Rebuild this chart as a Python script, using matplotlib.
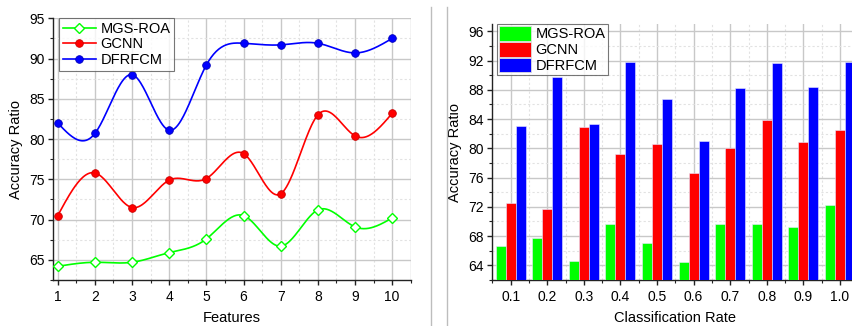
import numpy as np
import matplotlib
matplotlib.use("Agg")
import matplotlib.pyplot as plt
from matplotlib.patches import Patch
from matplotlib.lines import Line2D
from matplotlib.ticker import MultipleLocator

plt.rcParams['font.family'] = ['Liberation Sans', 'DejaVu Sans']

# ---- data: line chart (accuracy vs. number of features) ----
features = [1, 2, 3, 4, 5, 6, 7, 8, 9, 10]
mgs_roa_feat = [64.2, 64.7, 64.7, 65.9, 67.6, 70.5, 66.7, 71.2, 69.1, 70.2]
gcnn_feat = [70.5, 75.8, 71.5, 74.9, 75.1, 78.2, 73.2, 83.0, 80.4, 83.2]
dfrfcm_feat = [82.0, 80.7, 88.0, 81.1, 89.2, 91.9, 91.7, 91.9, 90.7, 92.5]

# ---- data: bar chart (accuracy vs. classification rate) ----
rates = [0.1, 0.2, 0.3, 0.4, 0.5, 0.6, 0.7, 0.8, 0.9, 1.0]
rate_labels = ["0.1", "0.2", "0.3", "0.4", "0.5", "0.6", "0.7", "0.8", "0.9", "1.0"]
mgs_roa_rate = [66.7, 67.8, 64.6, 69.7, 67.1, 64.5, 69.7, 69.7, 69.2, 72.2]
gcnn_rate = [72.5, 71.7, 82.9, 79.2, 80.6, 76.6, 80.0, 83.9, 80.8, 82.5]
dfrfcm_rate = [83.0, 89.7, 83.3, 91.8, 86.8, 81.0, 88.3, 91.6, 88.4, 91.8]

series_names = ["MGS-ROA", "GCNN", "DFRFCM"]
GREEN, RED, BLUE = "#00ff00", "#ff0000", "#0000ff"


def natural_spline(x, y, n=400):
    """Natural cubic spline through (x, y), evaluated on a dense grid."""
    x = np.asarray(x, float)
    y = np.asarray(y, float)
    k = len(x)
    h = np.diff(x)
    A = np.zeros((k, k))
    r = np.zeros(k)
    A[0, 0] = A[-1, -1] = 1.0
    for i in range(1, k - 1):
        A[i, i - 1] = h[i - 1]
        A[i, i] = 2 * (h[i - 1] + h[i])
        A[i, i + 1] = h[i]
        r[i] = 3 * ((y[i + 1] - y[i]) / h[i] - (y[i] - y[i - 1]) / h[i - 1])
    c = np.linalg.solve(A, r)
    b = (np.diff(y) / h) - h * (2 * c[:-1] + c[1:]) / 3
    d = np.diff(c) / (3 * h)
    xs = np.linspace(x[0], x[-1], n)
    idx = np.clip(np.searchsorted(x, xs, side="right") - 1, 0, k - 2)
    dx = xs - x[idx]
    ys = y[idx] + b[idx] * dx + c[idx] * dx ** 2 + d[idx] * dx ** 3
    return xs, ys


def style_axes(ax):
    ax.grid(which="major", color="#c8c8c8", linewidth=1.0, linestyle="-")
    ax.grid(which="minor", color="#e2e2e2", linewidth=0.8, linestyle=(0, (2, 2)))
    ax.set_axisbelow(True)
    for s in ("top", "right"):
        ax.spines[s].set_visible(False)
    for s in ("left", "bottom"):
        ax.spines[s].set_color("#222222")
        ax.spines[s].set_linewidth(1.0)
    ax.tick_params(which="major", direction="out", length=3.6, width=1.0,
                   color="#222222", labelsize=10)
    ax.tick_params(which="minor", direction="out", length=2.2, width=0.8,
                   color="#222222")
    ax.tick_params(axis="x", which="major", pad=3.8)
    ax.tick_params(axis="y", which="major", pad=2.2)


fig = plt.figure(figsize=(8.52, 3.26), dpi=100)

# ---------------- left: line chart ----------------
ax1 = fig.add_axes([53.3 / 852, 46 / 326, 357.4 / 852, 261.7 / 326])
style_axes(ax1)
ax1.set_xlim(0.88, 10.5)
ax1.set_ylim(62.5, 95)
ax1.xaxis.set_major_locator(MultipleLocator(1))
ax1.xaxis.set_minor_locator(MultipleLocator(0.5))
ax1.yaxis.set_major_locator(MultipleLocator(5))
ax1.yaxis.set_minor_locator(MultipleLocator(2.5))
ax1.axvline(10.5, color="#c8c8c8", linewidth=1.0, zorder=0)

line_specs = [
    (mgs_roa_feat, GREEN, dict(marker="D", markersize=5.5, markerfacecolor="white",
                               markeredgecolor=GREEN, markeredgewidth=1.0)),
    (gcnn_feat, RED, dict(marker="o", markersize=5.5, markerfacecolor=RED,
                          markeredgecolor="#cc0000", markeredgewidth=0.6)),
    (dfrfcm_feat, BLUE, dict(marker="o", markersize=5.5, markerfacecolor=BLUE,
                             markeredgecolor="#0000bb", markeredgewidth=0.6)),
]
handles = []
for (vals, col, mk), name in zip(line_specs, series_names):
    xs, ys = natural_spline(features, vals)
    ax1.plot(xs, ys, color=col, linewidth=1.2, zorder=3)
    ax1.plot(features, vals, linestyle="none", zorder=4, **mk)
    handles.append(Line2D([0], [0], color=col, linewidth=1.2, **mk))

ax1.set_xlabel("Features", fontsize=10.5, labelpad=5)
ax1.set_ylabel("Accuracy Ratio", fontsize=10.5, labelpad=5)
leg1 = ax1.legend(handles, series_names, loc="upper left",
                  bbox_to_anchor=(0.016, 1.0), fontsize=10.5, frameon=True,
                  fancybox=False, borderpad=0.25, labelspacing=0.1,
                  handlelength=2.3, handletextpad=0.3, borderaxespad=0.0)
leg1.get_frame().set_edgecolor("#555555")
leg1.get_frame().set_linewidth(0.8)

# ---------------- right: grouped bar chart ----------------
ax2 = fig.add_axes([492.3 / 852, 46 / 326, 366 / 852, 256 / 326])
style_axes(ax2)
ax2.set_xlim(0.05, 1.05)
ax2.set_ylim(62, 97)
ax2.xaxis.set_minor_locator(MultipleLocator(0.05))
ax2.yaxis.set_major_locator(MultipleLocator(4))
ax2.yaxis.set_minor_locator(MultipleLocator(2))
ax2.set_xticks(rates)
ax2.set_xticklabels(rate_labels)

bw = 0.0273
pos = np.asarray(rates)
bar_handles = []
for k, (vals, col) in enumerate(zip([mgs_roa_rate, gcnn_rate, dfrfcm_rate],
                                    [GREEN, RED, BLUE])):
    ax2.bar(pos + (k - 1) * bw, np.asarray(vals) - 62, bottom=62, width=bw,
            color=col, edgecolor="#e8e8ff", linewidth=0.4, zorder=3)
    bar_handles.append(Patch(facecolor=col, edgecolor="#dddddd", linewidth=0.6))

ax2.set_xlabel("Classification Rate", fontsize=10.5, labelpad=5)
ax2.set_ylabel("Accuracy Ratio", fontsize=10.5, labelpad=5)
leg2 = ax2.legend(bar_handles, series_names, loc="upper left",
                  bbox_to_anchor=(0.012, 1.0), fontsize=10.5, frameon=True,
                  fancybox=False, borderpad=0.15, labelspacing=0.05,
                  handlelength=2.2, handleheight=1.15, handletextpad=0.3,
                  borderaxespad=0.0)
leg2.get_frame().set_edgecolor("#555555")
leg2.get_frame().set_linewidth(0.8)

# divider between the two panels
for xp in (430.5 / 852, 446.5 / 852):
    fig.add_artist(Line2D([xp, xp], [0, 1 - 7 / 326], transform=fig.transFigure,
                          color="#bdbdbd", linewidth=1.0))

fig.savefig("out.png", dpi=100)
